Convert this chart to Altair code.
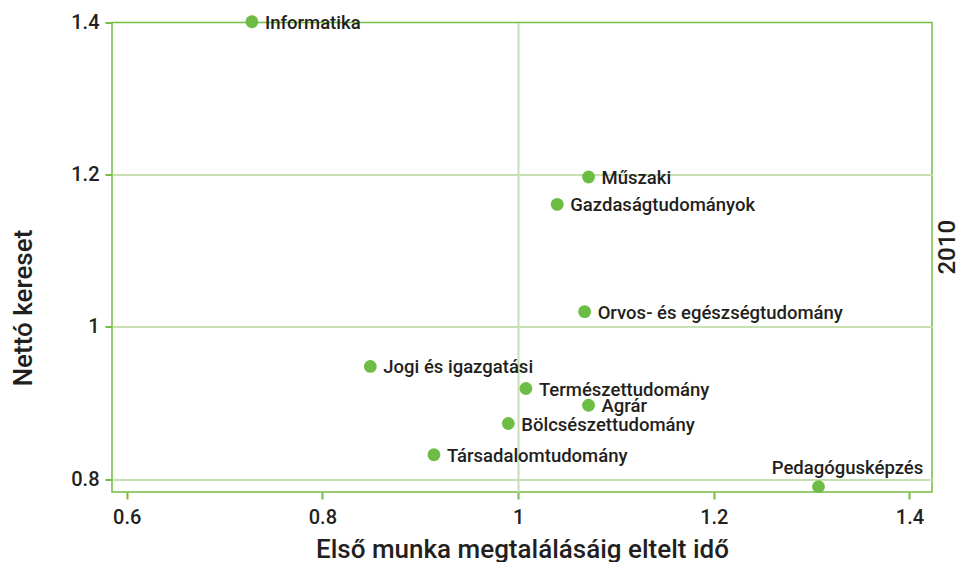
import altair as alt
import pandas as pd

categories = ["Informatika", "Műszaki", "Gazdaságtudományok", "Orvos- és egészségtudomány",
              "Jogi és igazgatási", "Természettudomány", "Agrár", "Bölcsészettudomány",
              "Társadalomtudomány", "Pedagógusképzés"]
x_vals = [0.728, 1.072, 1.040, 1.068, 0.849, 1.008, 1.072, 0.990, 0.914, 1.307]
y_vals = [1.401, 1.197, 1.161, 1.020, 0.948, 0.919, 0.897, 0.873, 0.832, 0.790]
x_ticks = [0.6, 0.8, 1.0, 1.2, 1.4]
y_ticks = [0.8, 1.0, 1.2, 1.4]

df = pd.DataFrame({"cat": categories, "x": x_vals, "y": y_vals})

GREEN = "#6dbd45"
FRAME = "#76bd43"
GRID = "#c6e0b4"
TXT = "#231f20"
FONT = "Roboto"

xs = alt.Scale(domain=[0.585, 1.423], nice=False, zero=False)
ys = alt.Scale(domain=[0.783, 1.4], nice=False, zero=False)

xaxis = alt.Axis(values=x_ticks, title="Első munka megtalálásáig eltelt idő",
                 labelExpr="datum.value == 1 ? '1' : format(datum.value, '.1f')",
                 grid=True, gridColor={"condition": {"test": "datum.value == 1", "value": GRID}, "value": "transparent"},
                 gridWidth=2, domain=False, tickColor=FRAME, tickSize=7, tickWidth=2,
                 labelFont=FONT, labelFontSize=20, labelFontWeight=500, labelColor=TXT, labelPadding=8,
                 titleFont=FONT, titleFontSize=26, titleFontWeight=500, titleColor=TXT, titlePadding=9)
yaxis = alt.Axis(values=y_ticks, title="Nettó kereset",
                 labelExpr="datum.value == 1 ? '1' : format(datum.value, '.1f')",
                 grid=True, gridColor={"condition": {"test": "datum.value == 1.4", "value": "transparent"}, "value": GRID},
                 gridWidth=2, domain=False, tickColor=FRAME, tickSize=7, tickWidth=2,
                 labelFont=FONT, labelFontSize=20, labelFontWeight=500, labelColor=TXT, labelPadding=6,
                 titleFont=FONT, titleFontSize=26, titleFontWeight=500, titleColor=TXT,
                 titleY=285, titlePadding=34)

base = alt.Chart(df)
pts = base.mark_circle(size=165, color=GREEN, opacity=1).encode(
    x=alt.X("x:Q", scale=xs, axis=xaxis),
    y=alt.Y("y:Q", scale=ys, axis=yaxis),
)
labels = base.transform_filter("datum.cat != 'Pedagógusképzés'").mark_text(
    align="left", baseline="middle", dx=13, dy=1, font=FONT, fontSize=18.5, fontWeight=500, color=TXT
).encode(x="x:Q", y="y:Q", text="cat:N")
label_top = base.transform_filter("datum.cat == 'Pedagógusképzés'").mark_text(
    align="center", baseline="middle", dx=29, dy=-19, font=FONT, fontSize=18.5, fontWeight=500, color=TXT
).encode(x="x:Q", y="y:Q", text="cat:N")

chart = alt.layer(pts, labels, label_top).properties(
    width=820, height=469.5,
    title=alt.TitleParams("2010", orient="right", angle=270, font=FONT, fontSize=24,
                          fontWeight=500, color=TXT, offset=-20, dx=10),
    autosize=alt.AutoSizeParams(type="none"),
    padding={"left": 104, "top": 14.5, "right": 29, "bottom": 70},
).configure_view(stroke=FRAME, strokeWidth=1.5)

chart.save("out.html", embed_options={"renderer": "svg", "actions": False})
